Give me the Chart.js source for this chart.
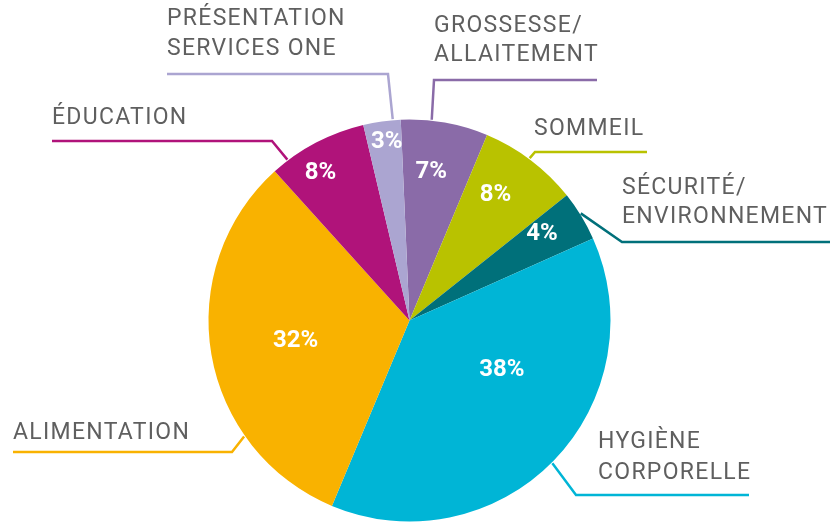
<!DOCTYPE html>
<html>
<head>
<meta charset="utf-8">
<script src="https://cdn.jsdelivr.net/npm/chart.js@4.4.1/dist/chart.umd.min.js"></script>
<style>
  html, body { margin: 0; padding: 0; background: #ffffff; }
  #wrap { width: 830px; height: 522px; position: relative; }
</style>
</head>
<body>
<div id="wrap"><canvas id="c" width="830" height="522"></canvas></div>
<script>
// ---- data ----
const categories = ['GROSSESSE/\nALLAITEMENT', 'SOMMEIL', 'SÉCURITÉ/\nENVIRONNEMENT', 'HYGIÈNE\nCORPORELLE', 'ALIMENTATION', 'ÉDUCATION', 'PRÉSENTATION\nSERVICES ONE'];
const values = [7, 8, 4, 38, 32, 8, 3];

// ---- styles ----
const colors = ['#8a6ba8', '#b9c200', '#00707a', '#00b5d6', '#f9b200', '#b0137a', '#aba5d1'];

// percent label placement inside each slice: [fraction along slice angle, fraction of radius]
const pctPlace = [[0.43, 0.75], [0.40, 0.76], [0.35, 0.79], [0.38, 0.52], [0.50, 0.575], [0.385, 0.86], [0.56, 0.90]];

// outside label layout: text x, first baseline, line gap, leader: line end x, line y, elbow x, anchor fraction along slice
const labelLayout = [
  { tx: 434, ty: 32,  gap: 29, lineX: 597, lineY: 80,  elbowX: 434, anchor: 0.35 },
  { tx: 534, ty: 135, gap: 29, lineX: 647, lineY: 152, elbowX: 535, anchor: 0.48 },
  { tx: 622, ty: 194, gap: 29, lineX: 830, lineY: 242, elbowX: 622, anchor: 0.45 },
  { tx: 598, ty: 448, gap: 31, lineX: 749, lineY: 495, elbowX: 576, anchor: 0.505 },
  { tx: 13,  ty: 439, gap: 30, lineX: 13,  lineY: 452, elbowX: 232, anchor: 0.28 },
  { tx: 52,  ty: 124, gap: 30, lineX: 52,  lineY: 141, elbowX: 272, anchor: 0.17 },
  { tx: 167, ty: 25,  gap: 30, lineX: 167, lineY: 74,  elbowX: 388, anchor: 0.79 }
];

const labelPlugin = {
  id: 'labelPlugin',
  afterDatasetsDraw(chart) {
    const ctx = chart.ctx;
    const meta = chart.getDatasetMeta(0);
    ctx.save();
    meta.data.forEach((arc, i) => {
      const p = arc.getProps(['x', 'y', 'startAngle', 'endAngle', 'outerRadius'], true);
      // percent label
      const [fa, fr] = pctPlace[i];
      const a = p.startAngle + fa * (p.endAngle - p.startAngle);
      const r = fr * p.outerRadius;
      ctx.fillStyle = '#ffffff';
      ctx.font = 'bold 24px Roboto';
      ctx.letterSpacing = '0px';
      ctx.textAlign = 'center';
      ctx.textBaseline = 'middle';
      ctx.fillText(values[i] + '%', p.x + Math.cos(a) * r, p.y + Math.sin(a) * r + 1);

      // leader line
      const L = labelLayout[i];
      const aa = p.startAngle + L.anchor * (p.endAngle - p.startAngle);
      const ax = p.x + Math.cos(aa) * (p.outerRadius + 1);
      const ay = p.y + Math.sin(aa) * (p.outerRadius + 1);
      ctx.strokeStyle = colors[i];
      ctx.lineWidth = 2.5;
      ctx.lineJoin = 'miter';
      ctx.beginPath();
      ctx.moveTo(L.lineX, L.lineY);
      ctx.lineTo(L.elbowX, L.lineY);
      ctx.lineTo(ax, ay);
      ctx.stroke();

      // category text
      ctx.fillStyle = '#5f5f5f';
      ctx.font = '23px Roboto';
      ctx.letterSpacing = '1.3px';
      ctx.textAlign = 'left';
      ctx.textBaseline = 'alphabetic';
      categories[i].split('\n').forEach((line, k) => {
        ctx.fillText(line, L.tx, L.ty + k * L.gap);
      });
    });
    ctx.restore();
  }
};

new Chart(document.getElementById('c'), {
  type: 'pie',
  data: {
    labels: categories.map(c => c.replace('\n', ' ')),
    datasets: [{
      data: values,
      backgroundColor: colors,
      borderWidth: 0,
      hoverOffset: 0
    }]
  },
  options: {
    responsive: false,
    animation: false,
    rotation: -2.5,
    radius: 201,
    layout: { padding: { left: 208, right: 219, top: 119, bottom: 0 } },
    plugins: {
      legend: { display: false },
      tooltip: { enabled: false }
    },
    events: []
  },
  plugins: [labelPlugin]
});
</script>
</body>
</html>
